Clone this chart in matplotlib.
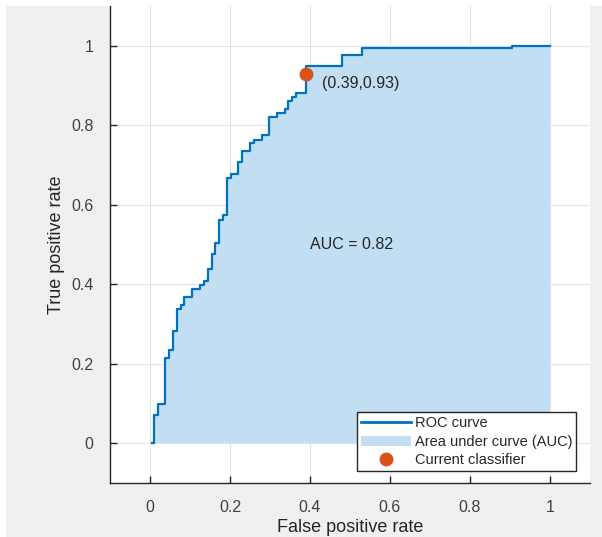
import matplotlib
matplotlib.use("Agg")
import matplotlib.pyplot as plt
from matplotlib.lines import Line2D
from matplotlib.patches import Patch, Rectangle

plt.rcParams['font.family'] = ['Liberation Sans', 'DejaVu Sans']

# ROC curve corners: at each fpr the curve climbs to the tpr listed
fpr = [0.006, 0.010, 0.019, 0.038, 0.048, 0.058, 0.067, 0.077, 0.086, 0.106,
       0.125, 0.135, 0.144, 0.154, 0.163, 0.173, 0.183, 0.192, 0.202, 0.221,
       0.231, 0.250, 0.260, 0.279, 0.298, 0.317, 0.337, 0.346, 0.356, 0.365,
       0.390, 0.481, 0.529, 0.904, 1.000]
tpr = [0.000, 0.070, 0.100, 0.215, 0.235, 0.283, 0.338, 0.348, 0.367, 0.388,
       0.398, 0.409, 0.438, 0.476, 0.505, 0.562, 0.574, 0.667, 0.677, 0.707,
       0.736, 0.756, 0.764, 0.776, 0.822, 0.832, 0.841, 0.860, 0.871, 0.882,
       0.949, 0.976, 0.995, 1.000, 1.000]
auc = 0.82
op_fpr, op_tpr = 0.39, 0.93

ticks = [0, 0.2, 0.4, 0.6, 0.8, 1]
tick_labels = ['0', '0.2', '0.4', '0.6', '0.8', '1']

blue = '#0072BD'
fill_blue = '#c1def2'
orange = '#D95319'
dark = '#262626'

fig = plt.figure(figsize=(6.02, 5.37), dpi=100, facecolor='white')
# gray window background with a thin white margin on the top and left
fig.patches.append(Rectangle((6 / 602, 0), 1, 1 - 6 / 537, transform=fig.transFigure,
                             facecolor='#f0f0f0', edgecolor='none', zorder=-10))

ax = fig.add_axes([110 / 602, (537 - 483) / 537, 480 / 602, 477 / 537])
ax.set_facecolor('white')

ax.fill_between(fpr, tpr, 0, step='post', color=fill_blue, linewidth=0, zorder=1)
ax.plot(fpr, tpr, drawstyle='steps-post', color=blue, linewidth=1.6, zorder=3)
ax.plot([op_fpr], [op_tpr], 'o', color=orange, markersize=9, zorder=4)

ax.text(op_fpr + 0.04, op_tpr - 0.025, '(%.2f,%.2f)' % (op_fpr, op_tpr),
        fontsize=11.5, color=dark, ha='left', va='center')
ax.text(0.4, 0.5, 'AUC = %.2f' % auc, fontsize=11.5, color=dark, ha='left', va='center')

ax.set_xlim(-0.1, 1.1)
ax.set_ylim(-0.1, 1.1)
ax.set_xticks(ticks)
ax.set_xticklabels(tick_labels)
ax.set_yticks(ticks)
ax.set_yticklabels(tick_labels)
ax.grid(True, color='#e3e3e3', linewidth=0.8, zorder=0)
ax.set_axisbelow(True)

for side in ['top', 'right']:
    ax.spines[side].set_visible(False)
for side in ['left', 'bottom']:
    ax.spines[side].set_color(dark)
    ax.spines[side].set_linewidth(1.0)
ax.tick_params(direction='in', length=5, width=1.0, color=dark,
               labelcolor='#404040', labelsize=11.5, pad=12)

ax.set_xlabel('False positive rate', fontsize=13, color=dark, labelpad=3)
ax.set_ylabel('True positive rate', fontsize=13, color=dark, labelpad=4)

handles = [Line2D([0], [0], color=blue, linewidth=2),
           Patch(facecolor=fill_blue, edgecolor='none'),
           Line2D([0], [0], marker='o', color=orange, linestyle='none', markersize=9)]
labels = ['ROC curve', 'Area under curve (AUC)', 'Current classifier']
leg = ax.legend(handles, labels, loc='lower right', bbox_to_anchor=(0.971, 0.025),
                borderaxespad=0, fontsize=10.5, fancybox=False, framealpha=1,
                edgecolor=dark, handlelength=3.4, handletextpad=0.3,
                borderpad=0.25, labelspacing=0.32)
leg.get_frame().set_linewidth(1.0)
for t in leg.get_texts():
    t.set_color(dark)

fig.savefig('out.png', dpi=100, facecolor=fig.get_facecolor())
